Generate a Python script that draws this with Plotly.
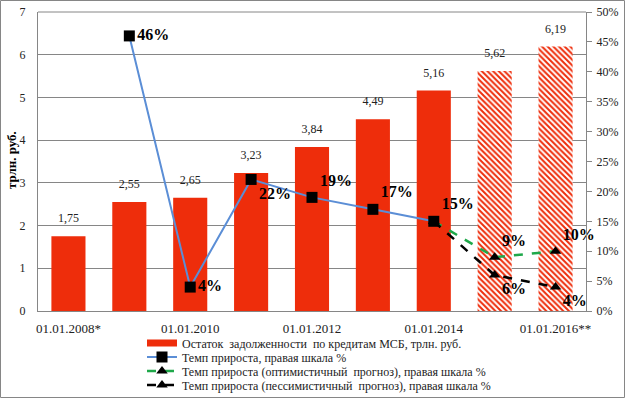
import plotly.graph_objects as go

categories = ["01.01.2008*", "01.01.2009", "01.01.2010", "01.01.2011", "01.01.2012",
              "01.01.2013", "01.01.2014", "01.01.2015", "01.01.2016**"]
debt = [1.75, 2.55, 2.65, 3.23, 3.84, 4.49, 5.16, 5.62, 6.19]
forecast_flags = [False, False, False, False, False, False, False, True, True]

growth_cats = categories[1:7]
growth = [46, 4, 22, 19, 17, 15]
growth_labels = ["46%", "4%", "22%", "19%", "17%", "15%"]
growth_pos = ["middle right", "middle right", "bottom right", "top right", "top right", "top right"]

opt_cats = categories[6:9]
opt = [15, 9, 10]
opt_labels = ["", "9%", "10%"]

pes_cats = categories[6:9]
pes = [15, 6, 4]
pes_labels = ["", "6%", "4%"]

shown_ticks = ["01.01.2008*", "01.01.2010", "01.01.2012", "01.01.2014", "01.01.2016**"]

RED = "#EE2D0B"
BLUE = "#5B8ED6"
GREEN = "#1FA84A"
SERIF = "Liberation Serif"

fig = go.Figure()

fig.add_trace(go.Bar(
    x=categories, y=debt, width=0.56,
    marker=dict(
        color=RED,
        line=dict(width=0),
        pattern=dict(
            shape=["\\" if f else "" for f in forecast_flags],
            fgcolor=RED, bgcolor="white", size=4, solidity=0.5, fillmode="replace",
        ),
    ),
    showlegend=False, hoverinfo="skip",
))

# bar value labels
fig.add_trace(go.Scatter(
    x=categories, y=debt, mode="markers+text",
    text=[f"{v:.2f}".replace(".", ",") for v in debt],
    textposition="top center",
    textfont=dict(family=SERIF, size=12, color="#222222"),
    marker=dict(size=16, opacity=0),
    showlegend=False, hoverinfo="skip", cliponaxis=False,
))

# legend proxy for bars
fig.add_trace(go.Scatter(
    x=[None], y=[None], mode="lines",
    line=dict(color=RED, width=7),
    name="Остаток  задолженности  по кредитам МСБ, трлн. руб.",
    legend="legend",
))

fig.add_trace(go.Scatter(
    x=opt_cats, y=opt, yaxis="y2", mode="lines+markers+text",
    line=dict(color=GREEN, width=2.5, dash="dash"),
    marker=dict(symbol="triangle-up", size=10, color="black"),
    text=opt_labels, textposition="top right",
    textfont=dict(family=SERIF, size=16, color="black", weight="bold"),
    name="Темп прироста (оптимистичный  прогноз), правая шкала %",
    legend="legend3", cliponaxis=False,
))

fig.add_trace(go.Scatter(
    x=pes_cats, y=pes, yaxis="y2", mode="lines+markers+text",
    line=dict(color="black", width=2.5, dash="dash"),
    marker=dict(symbol="triangle-up", size=10, color="black"),
    text=pes_labels, textposition="bottom right",
    textfont=dict(family=SERIF, size=16, color="black", weight="bold"),
    name="Темп прироста (пессимистичный  прогноз), правая шкала %",
    legend="legend4", cliponaxis=False,
))

fig.add_trace(go.Scatter(
    x=growth_cats, y=growth, yaxis="y2", mode="lines+markers+text",
    line=dict(color=BLUE, width=2),
    marker=dict(symbol="square", size=11, color="black"),
    text=growth_labels, textposition=growth_pos,
    textfont=dict(family=SERIF, size=16, color="black", weight="bold"),
    name="Темп прироста, правая шкала %",
    legend="legend2", cliponaxis=False,
))

W, H = 625, 398
ML, MR, MT, MB = 38, 39, 12, 87
pw = W - ML - MR
ph = H - MT - MB


def legend_at(py):
    return dict(
        x=(142 - ML) / pw, xanchor="left",
        y=(MT + ph - py) / ph, yanchor="middle",
        bgcolor="rgba(0,0,0,0)", itemwidth=30, tracegroupgap=0,
        font=dict(family=SERIF, size=12, color="#222222"),
    )


fig.update_layout(
    width=W, height=H,
    margin=dict(l=ML, r=MR, t=MT, b=MB, pad=0, autoexpand=False),
    paper_bgcolor="white", plot_bgcolor="white",
    font=dict(family=SERIF, size=12, color="#222222"),
    barmode="overlay",
    xaxis=dict(
        type="category", categoryorder="array", categoryarray=categories,
        range=[-0.5, 8.5],
        tickmode="array", tickvals=shown_ticks, ticktext=shown_ticks,
        showgrid=False, showline=True, linecolor="#868686", linewidth=1,
        ticks="", tickfont=dict(family=SERIF, size=13, color="#222222"),
        automargin=False, ticklabelstandoff=5,
    ),
    yaxis=dict(
        range=[0, 7], dtick=1, showgrid=True, gridcolor="#868686", gridwidth=1,
        showline=True, linecolor="#868686", zeroline=False, ticks="",
        tickfont=dict(family=SERIF, size=12, color="#222222"),
        automargin=False, ticklabelstandoff=9,
    ),
    yaxis2=dict(
        overlaying="y", side="right", range=[0, 50], dtick=5, ticksuffix="%",
        showgrid=False, showline=True, linecolor="#868686", zeroline=False,
        ticks="outside", ticklen=5, tickcolor="#868686",
        tickfont=dict(family=SERIF, size=12, color="#222222"),
        automargin=False, ticklabelstandoff=2,
    ),
    legend=legend_at(343),
    legend2=legend_at(357),
    legend3=legend_at(371),
    legend4=legend_at(385),
    annotations=[dict(
        text="<b>трлн. руб.</b>", textangle=-90, showarrow=False,
        xref="paper", yref="paper",
        x=(11 - ML) / pw, y=(MT + ph - 160) / ph,
        xanchor="center", yanchor="middle",
        font=dict(family=SERIF, size=13, color="black"),
    )],
    shapes=[dict(
        type="rect", xref="paper", yref="paper",
        x0=-(ML - 0.5) / pw, x1=1 + (MR - 0.5) / pw,
        y0=-(MB - 0.5) / ph, y1=1 + (MT - 0.5) / ph,
        line=dict(color="#868686", width=1), layer="below",
    ), dict(
        type="line", xref="paper", yref="paper", x0=0, x1=1, y0=1, y1=1,
        line=dict(color="#868686", width=1),
    )],
)

fig.write_html("out.html", config={"displayModeBar": False},
               post_script="document.body.style.margin='0px';")
